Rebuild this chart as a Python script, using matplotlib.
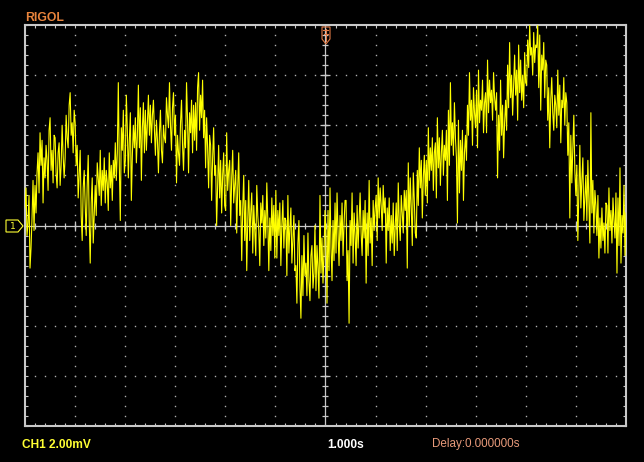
import numpy as np
import matplotlib
matplotlib.use("Agg")
import matplotlib.pyplot as plt
from matplotlib.patches import Polygon

# scope settings
mv_per_div = 2.0
s_per_div = 1.0
n_xdiv = 12
n_ydiv = 8

brand = "RIGOL"
ch_label = "CH1 2.00mV"
timebase_label = "1.000s"
delay_label = "Delay:0.000000s"

# CH1 trace in mV, one sample every 0.02 s (-6 s .. +6 s)
# (10 samples per line = 0.2 s = one minor tick)
ch1_mv = [
    0.7, 1.5, -0.4, 0.1, 1.2, -1.7, -0.9, 0.3, 1.8, -0.2,
    1.6, 0.5, 2.1, 2.9, 1.3, 3.7, 2.4, 3.4, 0.9, 2.7,
    1.9, 3.2, 2.6, 1.4, 3.8, 4.3, 2.2, 3.0, 1.7, 3.6,
    3.5, 2.1, 1.5, 2.9, 3.3, 1.6, 2.4, 4.0, 2.8, 1.9,
    2.7, 4.4, 3.5, 3.1, 4.8, 5.3, 3.6, 4.1, 2.9, 4.6,
    4.1, 2.4, 3.2, 1.1, 2.0, 3.0, 0.4, -0.6, 1.5, 2.2,
    0.8, -0.4, 1.6, 2.8, 0.2, -1.5, 0.9, 1.9, -0.7, 0.5,
    1.6, 0.4, 2.5, 1.9, 1.2, 3.0, 0.8, 2.2, 1.4, 2.7,
    0.9, 2.2, 1.7, 0.6, 2.9, 1.5, 2.4, 1.0, 2.6, 1.9,
    3.3, 1.8, 2.9, 5.7, 2.4, 0.2, 3.9, 3.0, 4.6, 2.1,
    2.6, 5.2, 3.8, 1.9, 3.4, 4.5, 1.0, 2.8, 4.0, 3.1,
    4.3, 2.5, 3.6, 5.6, 3.1, 4.7, 1.8, 3.9, 4.9, 2.9,
    4.6, 3.0, 4.1, 5.2, 3.6, 4.8, 3.3, 4.4, 5.0, 3.8,
    2.8, 4.2, 3.4, 2.1, 3.7, 4.6, 3.0, 2.5, 4.0, 3.5,
    3.3, 5.1, 4.4, 3.9, 5.7, 4.0, 3.0, 4.7, 5.3, 3.6,
    4.4, 1.7, 3.6, 2.9, 2.4, 4.1, 5.0, 3.2, 2.2, 3.8,
    3.1, 5.7, 4.2, 2.1, 4.5, 3.7, 5.0, 2.9, 4.8, 3.4,
    4.9, 3.0, 5.5, 6.1, 3.8, 5.2, 4.3, 5.8, 3.5, 4.6,
    2.3, 4.3, 3.1, 1.5, 3.6, 3.2, 1.0, 2.7, 3.9, 2.0,
    2.4, 0.0, 1.6, 3.2, 1.1, 2.6, 0.5, 2.0, 2.9, 0.8,
    0.6, 3.7, 1.4, 2.2, 2.6, 0.0, 1.9, 3.0, 0.9, 1.6,
    2.2, -0.3, 1.5, 2.9, 0.4, 1.0, -1.4, 0.7, 2.0, -0.6,
    1.0, -1.8, 0.2, 1.8, -0.6, 0.5, 1.3, -1.1, 0.8, -0.2,
    -1.2, 1.6, 0.4, -0.2, -1.6, 0.9, 0.1, 1.2, -0.8, 0.6,
    -0.5, 1.7, 0.2, -1.8, 0.3, -1.0, 1.1, -0.4, 0.8, -1.3,
    1.4, -1.3, 0.6, -0.4, 0.9, -1.6, 0.0, 1.0, -0.9, 0.3,
    0.2, -2.0, 1.2, -1.1, -0.1, 0.7, -1.5, -0.5, 0.4, -1.8,
    -1.6, -3.1, -0.7, 0.2, -2.4, -3.7, -1.2, -2.8, -0.4, -2.0,
    -1.5, -2.8, -0.3, -2.2, -3.0, -1.2, -0.8, -2.5, -1.9, 0.0,
    -2.6, -0.8, -1.7, -2.9, 1.2, -1.9, -0.5, -2.3, -1.1, 0.6,
    -0.4, -3.1, 0.6, -1.8, 1.5, -0.9, -2.2, 0.2, -1.4, 0.9,
    -1.1, 1.3, -0.3, -1.6, 0.4, -0.6, 0.9, -1.2, 0.1, 1.0,
    1.0, -2.2, -1.0, -3.9, 0.2, -0.8, 1.3, -1.5, 0.5, -0.4,
    -1.6, 0.8, -0.9, 0.2, 1.3, -0.3, -1.2, 0.6, -0.5, 1.0,
    -2.3, 0.5, -1.2, 1.8, -0.7, 0.3, -1.6, 1.0, -0.2, 0.7,
    1.2, -0.6, 1.9, 0.3, 1.5, 0.8, -0.2, 1.6, 0.5, 1.1,
    -1.5, 0.7, -0.2, 1.1, -1.0, 0.4, -0.7, 0.9, -1.2, 0.0,
    0.9, -1.0, 1.7, 0.1, -0.6, 1.2, 0.5, -0.3, 1.4, 0.6,
    1.4, -1.7, 2.5, 0.0, 1.9, 0.7, -0.8, 2.1, 1.0, -0.3,
    -0.5, 2.2, 0.8, 3.1, 1.5, 2.6, 0.3, 1.9, 2.8, 1.2,
    2.6, 0.9, 3.9, 1.8, 3.1, 2.2, 3.5, 1.4, 2.9, 3.3,
    1.1, 4.3, 2.3, 3.5, 1.6, 2.9, 3.8, 2.0, 3.2, 2.6,
    3.8, 1.0, 4.6, 2.4, 5.7, 3.2, 4.1, 2.8, 4.9, 3.5,
    2.7, 0.1, 4.2, 1.3, 3.4, 2.2, 3.8, 1.0, 2.9, 3.6,
    2.6, 4.8, 3.6, 6.1, 4.2, 5.0, 3.2, 5.5, 4.5, 3.9,
    5.4, 3.1, 6.2, 4.1, 5.0, 4.6, 5.8, 3.7, 4.9, 5.3,
    3.7, 6.6, 4.5, 5.8, 4.9, 5.4, 4.2, 6.1, 5.1, 4.6,
    5.3, 1.9, 4.4, 3.0, 5.8, 3.6, 4.8, 2.7, 4.1, 5.0,
    3.8, 6.4, 4.7, 7.3, 5.1, 6.0, 4.4, 5.6, 6.8, 5.2,
    6.2, 4.2, 7.2, 5.3, 6.6, 5.0, 6.0, 4.7, 6.9, 5.7,
    5.6, 7.4, 6.3, 8.0, 6.8, 7.1, 6.0, 7.7, 6.5, 7.2,
    7.1, 8.0, 5.5, 7.6, 4.6, 6.8, 6.2, 7.3, 5.1, 6.6,
    6.4, 4.2, 5.5, 3.1, 5.0, 5.9, 4.5, 3.8, 5.2, 4.8,
    3.9, 6.2, 4.4, 5.6, 3.3, 5.0, 4.7, 5.9, 4.0, 5.3,
    4.9, 2.8, 4.1, 0.3, 3.6, 1.7, 3.0, 4.4, 2.2, 1.2,
    2.4, -0.6, 1.4, 3.2, 0.7, 1.8, 2.7, 0.2, 1.1, 2.0,
    0.2, 2.6, 1.0, -0.7, 4.5, 0.5, 1.8, -0.3, 1.4, 0.8,
    -0.4, 1.2, -1.3, 0.3, -0.9, 0.7, -0.6, 0.1, -1.1, 0.9,
    0.8, -1.1, 1.5, -0.2, 0.6, -0.7, 1.1, 0.2, -0.5, 1.3,
    -1.9, 1.1, -0.8, 2.3, -1.5, 0.4, -0.3, 1.6, -1.2, 0.5,
]

xmax = n_xdiv / 2 * s_per_div
ymax = n_ydiv / 2 * mv_per_div
t = np.linspace(-xmax, xmax, len(ch1_mv))

frame_col = "#c8c8c8"
grid_col = "#b0b0b0"

fig = plt.figure(figsize=(6.44, 4.62), dpi=100, facecolor="black")

# screen area
ax = fig.add_axes([25 / 644, 36 / 462, 601 / 644, 401 / 462])
ax.set_facecolor("black")
ax.set_xlim(-xmax, xmax)
ax.set_ylim(-ymax, ymax)
for sp in ax.spines.values():
    sp.set_color(frame_col)
    sp.set_linewidth(1.5)
ax.set_xticks(np.arange(-xmax, xmax + 0.01, s_per_div))
ax.set_xticks(np.arange(-xmax, xmax + 0.01, s_per_div / 5), minor=True)
ax.set_yticks(np.arange(-ymax, ymax + 0.01, mv_per_div))
ax.set_yticks(np.arange(-ymax, ymax + 0.01, mv_per_div / 5), minor=True)
ax.tick_params(which="both", direction="in", length=2.2, width=0.8,
               color=frame_col, top=True, right=True,
               labelbottom=False, labelleft=False)

# dotted graticule
for gx in np.arange(-xmax + s_per_div, xmax, s_per_div):
    if abs(gx) < 1e-9:
        continue
    gy = np.arange(-ymax, ymax + 0.01, mv_per_div / 5)[1:-1]
    ax.plot(np.full(len(gy), gx), gy, ls="none", marker="s", ms=1.0,
            mew=0, color=grid_col)
for gy in np.arange(-ymax + mv_per_div, ymax, mv_per_div):
    if abs(gy) < 1e-9:
        continue
    gx = np.arange(-xmax, xmax + 0.01, s_per_div / 5)[1:-1]
    ax.plot(gx, np.full(len(gx), gy), ls="none", marker="s", ms=1.0,
            mew=0, color=grid_col)

# centre cross with ticks
ax.axhline(0, color=frame_col, lw=0.9)
ax.axvline(0, color=frame_col, lw=0.9)
yt = np.arange(-ymax, ymax + 0.01, mv_per_div / 5)
xt = np.arange(-xmax, xmax + 0.01, s_per_div / 5)
ax.plot(np.zeros(len(yt)), yt, ls="none", marker="_", ms=4.5, mew=0.9, color=frame_col)
ax.plot(xt, np.zeros(len(xt)), ls="none", marker="|", ms=4.5, mew=0.9, color=frame_col)
ym = np.arange(-ymax, ymax + 0.01, mv_per_div)
xm = np.arange(-xmax, xmax + 0.01, s_per_div)
ax.plot(np.zeros(len(ym)), ym, ls="none", marker="_", ms=7, mew=0.9, color=frame_col)
ax.plot(xm, np.zeros(len(xm)), ls="none", marker="|", ms=7, mew=0.9, color=frame_col)

# the trace
ax.plot(t, ch1_mv, color="#ffff00", lw=0.8, zorder=5)

# overlay in pixel units for the screen furniture
ov = fig.add_axes([0, 0, 1, 1], facecolor="none")
ov.set_xlim(0, 644)
ov.set_ylim(462, 0)
ov.axis("off")

trig_col = "#e07a45"
ov.add_patch(Polygon([(322, 27), (330, 27), (330, 39), (326, 44), (322, 39)],
                     closed=True, fill=False, ec=trig_col, lw=0.8))
ov.plot([326, 326], [29, 41], color=trig_col, lw=0.8)
ov.plot([323.5, 328.5], [30, 30], color=trig_col, lw=0.8)
ov.plot([324, 328], [33.5, 33.5], color=trig_col, lw=0.8)

ch_col = "#ffff33"
ov.add_patch(Polygon([(6, 220), (18, 220), (23, 226), (18, 232), (6, 232)],
                     closed=True, fill=False, ec=ch_col, lw=0.8))
ov.text(12.5, 226.5, "1", color=ch_col, fontsize=6.5, ha="center", va="center")

fam = ["Liberation Sans", "DejaVu Sans"]
ov.text(25.5, 21, brand, color="#e8843c", fontsize=8.8, fontweight="bold",
        family=fam, va="baseline")
ov.text(22, 447.5, ch_label, color=ch_col, fontsize=8.6, fontweight="bold",
        family=fam, va="baseline")
ov.text(327, 447.5, timebase_label, color="white", fontsize=8.6, fontweight="bold",
        family=fam, va="baseline")
ov.text(432, 447.5, delay_label, color="#e89a7a", fontsize=8.4,
        family=fam, va="baseline")

fig.savefig("out.png", dpi=100, facecolor="black")
